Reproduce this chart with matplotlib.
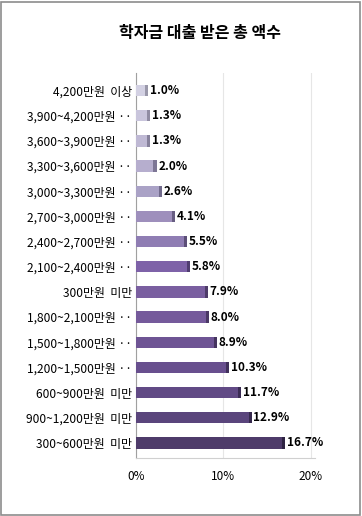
import matplotlib
matplotlib.use("Agg")
import matplotlib.pyplot as plt
from matplotlib.patches import Rectangle

plt.rcParams['font.family'] = ['Noto Sans CJK KR', 'DejaVu Sans']

# Data (top to bottom as displayed)
categories = ["4,200만원  이상", "3,900~4,200만원 ··", "3,600~3,900만원 ··", "3,300~3,600만원 ··",
              "3,000~3,300만원 ··", "2,700~3,000만원 ··", "2,400~2,700만원 ··", "2,100~2,400만원 ··",
              "300만원  미만", "1,800~2,100만원 ··", "1,500~1,800만원 ··", "1,200~1,500만원 ··",
              "600~900만원  미만", "900~1,200만원  미만", "300~600만원  미만"]
values = [1.0, 1.3, 1.3, 2.0, 2.6, 4.1, 5.5, 5.8, 7.9, 8.0, 8.9, 10.3, 11.7, 12.9, 16.7]
xticks = [0, 10, 20]
xticklabels = ["0%", "10%", "20%"]
title = "학자금 대출 받은 총 액수"

colors = ["#d3d1e3", "#c9c5dc", "#bfb9d4", "#b6aece", "#aaa2c6", "#9e8fbc", "#8f7db3", "#7e62a8",
          "#7a5fa0", "#755a9b", "#6e5494", "#684f8e", "#614a85", "#5a457c", "#4e3b6a"]
side_colors = ["#9a98aa", "#908ca3", "#86819b", "#7d7695", "#726b8c", "#675d82", "#5c4f78", "#503d70",
               "#4e3c69", "#4a3865", "#45345f", "#40305a", "#3b2c54", "#36294d", "#2e2342"]

cats = categories[::-1]
vals = values[::-1]
cols = colors[::-1]
scols = side_colors[::-1]

W, H = 362, 516
fig = plt.figure(figsize=(W/100, H/100), dpi=100)
fig.patches.append(Rectangle((1/W, 1/H), 1 - 3/W, 1 - 3/H, transform=fig.transFigure,
                             fill=False, edgecolor="#8c8c8c", linewidth=1.2))

left, right, top, bottom = 136, 315, 73, 458
ax = fig.add_axes([left/W, 1 - bottom/H, (right-left)/W, (bottom-top)/H])

y = list(range(len(cats)))
ax.barh(y, vals, height=0.45, color=cols, edgecolor='none', zorder=3)
ax.barh(y, [0.35]*len(vals), left=vals, height=0.45, color=scols, edgecolor='none', zorder=3)

for yi, v in zip(y, vals):
    ax.text(v + 0.55, yi, f"{v:.1f}%", va='center', ha='left', fontsize=8.5,
            fontweight='bold', color='black', zorder=4)

ax.set_xlim(0, 20.5)
ax.set_ylim(-0.6, 14.7)
ax.set_xticks(xticks)
ax.set_xticklabels(xticklabels, fontsize=8.5)
ax.set_yticks(y)
ax.set_yticklabels(cats, fontsize=8.6)
ax.tick_params(axis='both', length=0)
ax.tick_params(axis='x', pad=9)
ax.tick_params(axis='y', pad=3)
ax.xaxis.grid(True, color='#e6e6e6', linewidth=0.8, zorder=0)
ax.set_axisbelow(True)
for s in ['top', 'right']:
    ax.spines[s].set_visible(False)
ax.spines['left'].set_color('#a0a0a0')
ax.spines['bottom'].set_color('#d0d0d0')

fig.text(200/W, 1 - 33/H, title, ha='center', va='center', fontsize=11.5, fontweight='bold')

fig.savefig("out.png", dpi=100, facecolor='white')
